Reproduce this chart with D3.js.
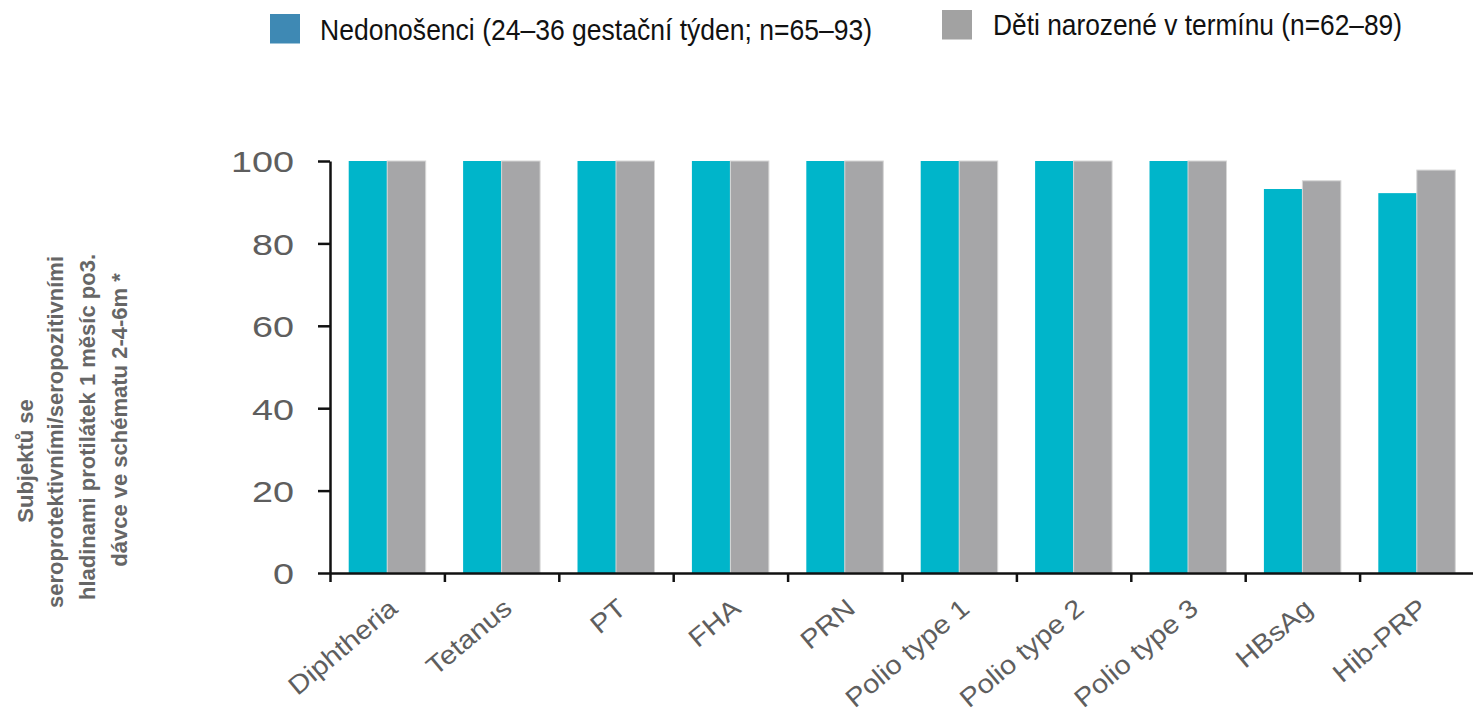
<!DOCTYPE html>
<html>
<head>
<meta charset="utf-8">
<script src="https://cdn.jsdelivr.net/npm/d3@7"></script>
<style>
  html, body { margin: 0; padding: 0; background: #fff; }
  svg { display: block; }
</style>
</head>
<body>
<svg id="chart" width="1473" height="714"></svg>
<script>
// Antigens measured one month after the third dose
const categories = ["Diphtheria", "Tetanus", "PT", "FHA", "PRN", "Polio type 1", "Polio type 2", "Polio type 3", "HBsAg", "Hib-PRP"];

// Series labels (legend)
const seriesLabels = ["Nedonošenci (24–36 gestační týden; n=65–93)", "Děti narozené v termínu (n=62–89)"];

// % of subjects with seroprotective / seropositive antibody levels
const pretermValues = [100, 100, 100, 100, 100, 100, 100, 100, 93.2, 92.2];
const termValues    = [100, 100, 100, 100, 100, 100, 100, 100, 95.2, 97.8];

const yTicks = [0, 20, 40, 60, 80, 100];

const yTitleLines = [
  "Subjektů se",
  "seroprotektivními/seropozitivními",
  "hladinami protilátek 1 měsíc po3.",
  "dávce ve schématu 2-4-6m *"
];

const barColors = { preterm: "#00b5ca", term: "#a6a6a8" };
const legendColors = ["#3e89b4", "#a2a2a2"];
const axisColor = "#111";
const labelColor = "#5e5e5e";

const svg = d3.select("#chart");

const plot = { left: 330, right: 1474, top: 161, bottom: 573 };

const x0 = d3.scaleBand()
  .domain(categories)
  .range([plot.left, plot.right])
  .padding(0);

const x1 = d3.scaleBand()
  .domain(["preterm", "term"])
  .range([0, x0.bandwidth()])
  .paddingInner(0)
  .paddingOuter(0.486);

const y = d3.scaleLinear().domain([0, 100]).range([plot.bottom, plot.top]);

// Bars
const rows = categories.map((c, i) => ({ cat: c, preterm: pretermValues[i], term: termValues[i] }));

const groups = svg.append("g").selectAll("g")
  .data(rows)
  .join("g")
  .attr("transform", d => `translate(${x0(d.cat)},0)`);

groups.selectAll("rect")
  .data(d => ["preterm", "term"].map(k => ({ key: k, value: d[k] })))
  .join("rect")
  .attr("x", d => x1(d.key))
  .attr("y", d => y(d.value))
  .attr("width", x1.bandwidth())
  .attr("height", d => y(0) - y(d.value))
  .attr("fill", d => barColors[d.key])
  .attr("stroke", d => d.key === "term" ? "#d6d6d6" : "none")
  .attr("stroke-width", 1);

// X axis: boundary ticks between categories
const xb = d3.scaleLinear().domain([0, categories.length]).range([plot.left, plot.right]);
const xAxisG = svg.append("g")
  .attr("transform", `translate(0,${plot.bottom})`)
  .call(d3.axisBottom(xb)
    .tickValues(d3.range(0, categories.length + 1))
    .tickFormat("")
    .tickSize(9)
    .tickSizeOuter(0));
xAxisG.select(".domain").attr("stroke", axisColor).attr("stroke-width", 2.5);
xAxisG.selectAll(".tick line").attr("stroke", axisColor).attr("stroke-width", 2.5);

// X axis: category labels
const xLabelG = svg.append("g")
  .attr("transform", `translate(0,${plot.bottom})`)
  .call(d3.axisBottom(x0).tickSize(0));
xLabelG.select(".domain").remove();
xLabelG.selectAll(".tick text")
  .attr("x", 0)
  .attr("y", 0)
  .attr("dy", 0)
  .attr("text-anchor", "end")
  .attr("transform", "translate(12,38) rotate(-40) scale(1.12,1)")
  .style("font-family", "'Liberation Sans', Arial, sans-serif")
  .style("font-size", "26px")
  .attr("fill", labelColor);

// Y axis
const yAxisG = svg.append("g")
  .attr("transform", `translate(${plot.left},0)`)
  .call(d3.axisLeft(y).tickValues(yTicks).tickSize(12).tickSizeOuter(0));
yAxisG.select(".domain").attr("stroke", axisColor).attr("stroke-width", 2.5);
yAxisG.selectAll(".tick line").attr("stroke", axisColor).attr("stroke-width", 2.5);
yAxisG.selectAll(".tick text")
  .attr("x", -36)
  .attr("dy", "0.36em")
  .attr("text-anchor", "end")
  .attr("textLength", d => String(d).length * 21)
  .attr("lengthAdjust", "spacingAndGlyphs")
  .style("font-family", "'Liberation Sans', Arial, sans-serif")
  .style("font-size", "30px")
  .attr("fill", labelColor);

// Y axis title (four rotated lines)
const titlePos = [
  { x: 33, y: 461 },
  { x: 63, y: 432 },
  { x: 95, y: 427 },
  { x: 127, y: 420 }
];
svg.append("g").selectAll("text")
  .data(yTitleLines)
  .join("text")
  .attr("transform", (d, i) => `translate(${titlePos[i].x},${titlePos[i].y}) rotate(-90)`)
  .attr("text-anchor", "middle")
  .style("font-family", "'Liberation Sans', Arial, sans-serif")
  .style("font-size", "22px")
  .style("font-weight", "bold")
  .attr("fill", "#666")
  .text(d => d);

// Legend
const legendItems = [
  { label: seriesLabels[0], color: legendColors[0], rx: 270, ry: 14, tx: 320, ty: 40, len: 552 },
  { label: seriesLabels[1], color: legendColors[1], rx: 942, ry: 10, tx: 993, ty: 35, len: 409 }
];
const legend = svg.append("g");
legend.selectAll("rect")
  .data(legendItems)
  .join("rect")
  .attr("x", d => d.rx)
  .attr("y", d => d.ry)
  .attr("width", 30)
  .attr("height", 29.5)
  .attr("fill", d => d.color);
legend.selectAll("text")
  .data(legendItems)
  .join("text")
  .attr("x", d => d.tx)
  .attr("y", d => d.ty)
  .attr("textLength", d => d.len)
  .attr("lengthAdjust", "spacingAndGlyphs")
  .style("font-family", "'Liberation Sans', Arial, sans-serif")
  .style("font-size", "30px")
  .attr("fill", "#111")
  .text(d => d.label);
</script>
</body>
</html>
